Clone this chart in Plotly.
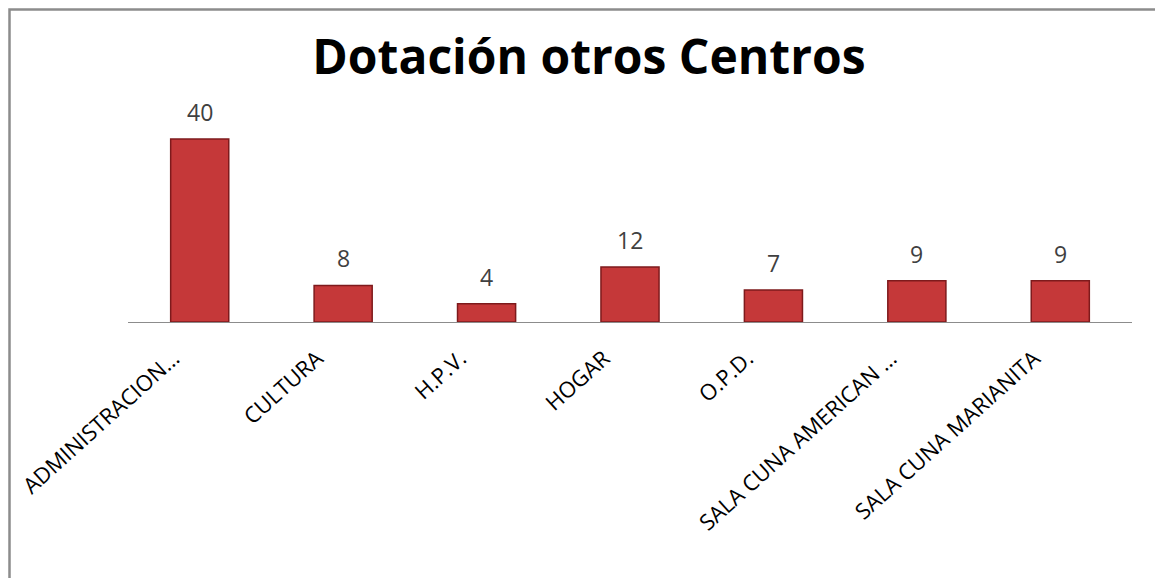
import plotly.graph_objects as go

categories = ["ADMINISTRACION…", "CULTURA", "H.P.V.", "HOGAR", "O.P.D.",
              "SALA CUNA AMERICAN …", "SALA CUNA MARIANITA"]
values = [40, 8, 4, 12, 7, 9, 9]

fig = go.Figure()
fig.add_trace(go.Bar(
    x=categories, y=values,
    marker=dict(color="#C53839", line=dict(color="#7E1A1C", width=1.5)),
    hoverinfo="x+y",
))

for c, v in zip(categories, values):
    fig.add_annotation(x=c, y=v, text=str(v), showarrow=False,
                       yanchor="bottom", yshift=9,
                       font=dict(family="Open Sans", size=23, color="#404040"))

W, H = 1155, 570
L, R, T, B = 120, 31, 108, 256
PW, PH = W - L - R, H - T - B
fig.update_layout(
    width=W, height=H,
    margin=dict(l=L, r=R, t=T, b=B, autoexpand=False),
    paper_bgcolor="white", plot_bgcolor="white",
    bargap=0.595,
    showlegend=False,
    title=dict(text="<b>Dotación otros Centros</b>", x=0.503, xanchor="center",
               y=1 - 49 / H, yanchor="middle",
               font=dict(family="Open Sans", size=48, color="#000000")),
    xaxis=dict(tickangle=-42, showline=True, linecolor="#8C8C8C", linewidth=1,
               ticks="", ticklabelstandoff=14, ticklabelshift=-26, automargin=False,
               tickfont=dict(family="Open Sans", size=22, color="#000000"),
               showgrid=False),
    yaxis=dict(range=[0, 45], visible=False, showgrid=False, automargin=False),
    shapes=[dict(type="rect", xref="paper", yref="paper",
                 x0=(1.5 - L) / PW, x1=(W + 20 - L) / PW,
                 y0=-3, y1=(H - B - 1.5) / PH,
                 line=dict(color="#8C8C8C", width=2.5), fillcolor="rgba(0,0,0,0)")],
)

fig.write_html("out.html")
